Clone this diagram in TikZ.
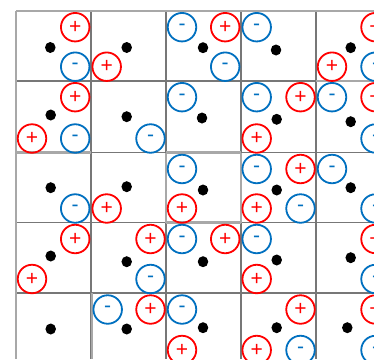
\documentclass[tikz,border=0pt]{standalone}
\usepackage{fontspec}
\setmainfont{Liberation Sans}
\usetikzlibrary{shapes.geometric}
\definecolor{pos}{HTML}{FF0000}
\definecolor{neg}{HTML}{0070C0}
\definecolor{gridd}{HTML}{777777}
\definecolor{gridl}{HTML}{A8A8A8}
\tikzset{
  chg/.style={circle, line width=1.8pt, minimum size=28.5pt, inner sep=0pt, font=\fontsize{21}{21}\selectfont},
  pchg/.style={chg, draw=pos, text=pos},
  nchg/.style={chg, draw=neg, text=neg},
  atom/.style={ellipse, fill=black, minimum width=10.5pt, minimum height=11pt, inner sep=0pt},
  gdark/.style={draw=gridd, line width=1.8pt},
  glight/.style={draw=gridl, line width=2.4pt},
}
\begin{document}
\begin{tikzpicture}[x=1pt,y=-1pt]
\useasboundingbox (0,0) rectangle (374,359);
\fill[white] (0,0) rectangle (374,359);
% grid (dark)
\foreach \x in {90.7,166,240.7,316} \draw[gdark] (\x,10.7) -- (\x,359);
\foreach \y in {80.7,152.5,222.5,293} \draw[gdark] (16,\y) -- (374,\y);
% lighter segments
\draw[glight] (16,10.7) -- (374,10.7);
\draw[glight] (16,10.7) -- (16,359);
\draw[glight] (16,152.5) -- (90.7,152.5);
\draw[glight] (316,80.7) -- (374,80.7);
\draw[glight] (92,293) -- (92,359);
\draw[glight] (166,152.5) -- (166,222.5);
\draw[glight] (166,152.5) -- (240.7,152.5);
\draw[glight] (240.7,152.5) -- (240.7,222.5);
\draw[glight] (166,222.5) -- (240.7,222.5);
% atoms
\foreach \n/\x/\y in {a00/50.3/47.5, a10/126.7/47.5, a20/203/47.7, a30/276/50, a40/350.7/47.7,
  a01/50.7/115, a11/126.7/116.7, a21/202/118, a31/276.7/119.3, a41/350.7/121.7,
  a02/50.7/187.7, a12/126.7/186.7, a22/203/190, a32/276.7/190, a42/350.7/187.7,
  a03/50.7/256, a13/126.7/261.7, a23/203/261.7, a33/276.7/260, a43/350.7/257.7,
  a04/50.7/329, a14/126.7/329, a24/203/327.7, a34/276.7/327.7, a44/347.3/327.7}
  \node[atom] (\n) at (\x,\y) {};
% positive charges
\foreach \n/\x/\y in {p00tr/75.2/27.2, p10bl/106.7/66.7, p20tr/225.2/27.2, p40tr/375.5/27.2, p40bl/332/66.7,
  p01tr/75.2/97.2, p01bl/32/138.5, p31tr/300.5/97.2, p31bl/256.7/138.5, p41tr/375.5/97.2,
  p12bl/106.7/208.5, p22bl/182/208.5, p32tr/300.5/169, p32bl/256.7/208.5,
  p03tr/75.2/239, p03bl/32/279, p13tr/150.5/239, p23tr/225.2/239, p33bl/256.7/279, p43tr/375.5/239,
  p14tr/150.5/309.5, p24bl/182/350, p34tr/300.5/309.5, p34bl/256.7/350, p44tr/375.5/309.5}
  \node[pchg] (\n) at (\x,\y) {+};
% negative charges
\foreach \n/\x/\y in {n00br/75.2/66.7, n20tl/182/27.2, n20br/225.2/66.7, n30tl/256.7/27.2, n40br/375.5/66.7,
  n01br/75.2/138.5, n11br/150.5/138.5, n21tl/182/97.2, n31tl/256.7/97.2, n41tl/332/97.2, n41br/375.5/138.5,
  n02br/75.2/208.5, n22tl/182/169, n32tl/256.7/169, n32br/300.5/208.5, n42tl/332/169, n42br/375.5/208.5,
  n13br/150.5/279, n23tl/182/239, n33tl/256.7/239, n43br/375.5/279,
  n14tl/107.7/309.5, n24tl/182/309.5, n34br/300.5/350, n44br/375.5/350}
  \node[nchg] (\n) at (\x,\y) {-};
\end{tikzpicture}
\end{document}
